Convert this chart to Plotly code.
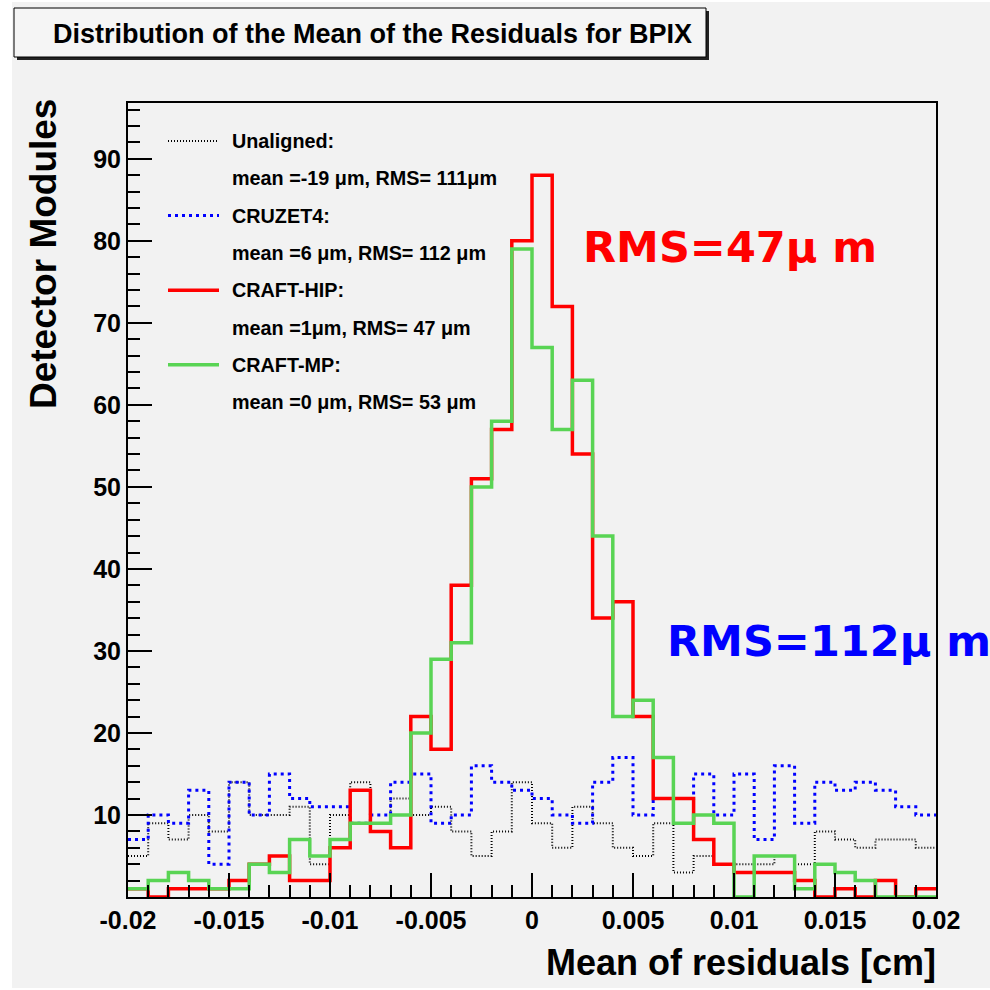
import numpy as np
import plotly.graph_objects as go

# ---------------- data ----------------
x_min, x_max, n_bins = -0.02, 0.02, 40
unaligned = [5, 9, 7, 10, 8, 14, 10, 10, 11, 4, 10, 14, 9, 12, 10, 11, 8, 5, 8, 14,
             9, 6, 11, 9, 6, 5, 9, 3, 5, 4, 4, 4, 5, 4, 8, 7, 6, 7, 7, 6]
cruzet4 = [7, 10, 9, 13, 4, 14, 10, 15, 12, 11, 11, 9, 10, 14, 15, 9, 10, 16, 14, 13,
           12, 10, 9, 14, 17, 10, 12, 12, 15, 10, 15, 7, 16, 9, 14, 13, 14, 13, 11, 10]
craft_hip = [1, 0, 1, 1, 1, 2, 4, 5, 2, 2, 6, 13, 8, 6, 22, 18, 38, 51, 57, 80,
             88, 72, 54, 34, 36, 22, 12, 12, 7, 4, 3, 3, 3, 2, 0, 1, 0, 2, 0, 1]
craft_mp = [1, 2, 3, 2, 1, 1, 4, 3, 7, 5, 7, 9, 9, 10, 20, 29, 31, 50, 58, 79,
            67, 57, 63, 44, 22, 24, 17, 9, 10, 9, 0, 5, 5, 1, 4, 3, 2, 0, 0, 0]

series_names = ["Unaligned:", "CRUZET4:", "CRAFT-HIP:", "CRAFT-MP:"]
series_stats = ["mean =-19 \u03bcm, RMS= 111\u03bcm",
                "mean =6 \u03bcm, RMS= 112 \u03bcm",
                "mean =1\u03bcm, RMS= 47 \u03bcm",
                "mean =0 \u03bcm, RMS= 53 \u03bcm"]

x_tickvals = [-0.02, -0.015, -0.01, -0.005, 0, 0.005, 0.01, 0.015, 0.02]
x_ticktext = ["-0.02", "-0.015", "-0.01", "-0.005", "0", "0.005", "0.01", "0.015", "0.02"]
y_tickvals = [0, 10, 20, 30, 40, 50, 60, 70, 80, 90]
y_ticktext = ["", "10", "20", "30", "40", "50", "60", "70", "80", "90"]
y_max = 96.8

# ---------------- styles ----------------
styles = [
    dict(color="#000000", width=2, dash="1px,2px"),
    dict(color="#0000ff", width=3, dash="3px,4px"),
    dict(color="#ff0000", width=3.5, dash="solid"),
    dict(color="#59d454", width=3.5, dash="solid"),
]

W, H = 990, 990
L, R, T, B = 128, 54, 103, 93
PW, PH = W - L - R, H - T - B


def px(x):
    return (x - L) / PW


def py(y):
    return (H - B - y) / PH


edges = np.linspace(x_min, x_max, n_bins + 1)
fig = go.Figure()
for vals, st, name in zip([unaligned, cruzet4, craft_hip, craft_mp], styles, series_names):
    fig.add_trace(go.Scatter(
        x=edges, y=list(vals) + [vals[-1]], mode="lines", line_shape="hv",
        line=st, name=name, showlegend=False, hoverinfo="skip"))

shapes = []
annotations = []
# canvas background (white border at left)
shapes.append(dict(type="rect", xref="paper", yref="paper", x0=px(12), x1=px(990),
                   y0=py(988), y1=py(2), fillcolor="#f2f2f2", line_width=0, layer="below"))
# title box with shadow
shapes.append(dict(type="rect", xref="paper", yref="paper", x0=px(17), x1=px(709),
                   y0=py(60), y1=py(11), fillcolor="#222222", line_width=0))
shapes.append(dict(type="rect", xref="paper", yref="paper", x0=px(14), x1=px(706),
                   y0=py(57), y1=py(8), fillcolor="#f5f5f5",
                   line=dict(color="#000000", width=1)))
annotations.append(dict(text="Distribution of the Mean of the Residuals for BPIX",
                        xref="paper", yref="paper", x=px(372), y=py(34),
                        xanchor="center", yanchor="middle", showarrow=False,
                        font=dict(family="Liberation Sans", size=27, color="#000000", weight="bold")))

# legend
row0, drow = 141, 37.3
for i, (name, stat, st) in enumerate(zip(series_names, series_stats, styles)):
    yl = row0 + 2 * i * drow
    shapes.append(dict(type="line", xref="paper", yref="paper", x0=px(168), x1=px(219),
                       y0=py(yl), y1=py(yl), line=st))
    annotations.append(dict(text=name, xref="paper", yref="paper", x=px(230), y=py(yl),
                            xanchor="left", yanchor="middle", showarrow=False,
                            font=dict(family="Liberation Sans", size=19.8, color="#000000", weight="bold")))
    annotations.append(dict(text=stat, xref="paper", yref="paper", x=px(230), y=py(yl + drow),
                            xanchor="left", yanchor="middle", showarrow=False,
                            font=dict(family="Liberation Sans", size=19.8, color="#000000", weight="bold")))

# big RMS labels
annotations.append(dict(text="RMS=47\u03bc m", xref="paper", yref="paper", x=px(581), y=py(247),
                        xanchor="left", yanchor="middle", showarrow=False,
                        font=dict(family="DejaVu Sans", size=43, color="#ff0000", weight="bold")))
annotations.append(dict(text="RMS=112\u03bc m", xref="paper", yref="paper", x=px(665), y=py(641),
                        xanchor="left", yanchor="middle", showarrow=False,
                        font=dict(family="DejaVu Sans", size=43, color="#0000ff", weight="bold")))

# axis titles
annotations.append(dict(text="Detector Modules", xref="paper", yref="paper", x=px(44), y=py(254),
                        xanchor="center", yanchor="middle", textangle=-90, showarrow=False,
                        font=dict(family="Liberation Sans", size=37, color="#000000", weight="bold")))
annotations.append(dict(text="Mean of residuals [cm]", xref="paper", yref="paper", x=px(938), y=py(962),
                        xanchor="right", yanchor="middle", showarrow=False,
                        font=dict(family="Liberation Sans", size=36, color="#000000", weight="bold")))

tickfont = dict(family="Liberation Sans", size=25, color="#000000", weight="bold")
fig.update_layout(
    width=W, height=H, margin=dict(l=L, r=R, t=T, b=B, autoexpand=False),
    paper_bgcolor="#ffffff", plot_bgcolor="#f2f2f2",
    shapes=shapes, annotations=annotations, showlegend=False,
    xaxis=dict(range=[x_min, x_max], tickmode="array", tickvals=x_tickvals, ticktext=x_ticktext,
               ticks="inside", ticklen=24, tickwidth=1.5, tickcolor="#000000",
               minor=dict(ticks="inside", ticklen=12, tickwidth=1.5, tickcolor="#000000",
                          tickmode="linear", tick0=x_min, dtick=0.001),
               showgrid=False, zeroline=False, showline=True, mirror=True,
               linecolor="#000000", linewidth=2, tickfont=tickfont),
    yaxis=dict(range=[0, y_max], tickmode="array", tickvals=y_tickvals, ticktext=y_ticktext,
               ticks="inside", ticklen=24, tickwidth=1.5, tickcolor="#000000",
               minor=dict(ticks="inside", ticklen=12, tickwidth=1.5, tickcolor="#000000",
                          tickmode="linear", tick0=0, dtick=2),
               showgrid=False, zeroline=False, showline=True, mirror=True,
               linecolor="#000000", linewidth=2, tickfont=tickfont),
)

fig.write_html("out.html")
